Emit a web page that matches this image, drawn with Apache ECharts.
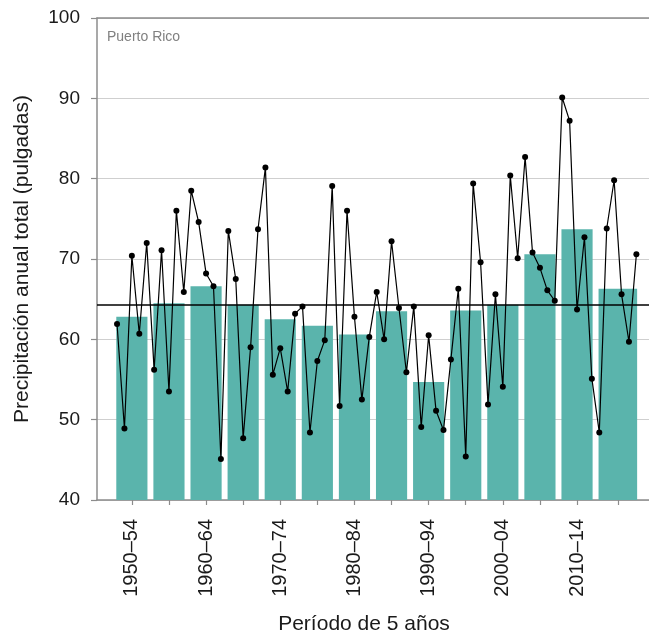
<!DOCTYPE html>
<html>
<head>
<meta charset="utf-8">
<script src="https://cdn.jsdelivr.net/npm/echarts@6/dist/echarts.min.js"></script>
<style>
  html, body { margin: 0; padding: 0; background: #fff; }
  #chart { width: 649px; height: 630px; }
</style>
</head>
<body>
<div id="chart"></div>
<script>
// Annual precipitation totals for Puerto Rico (inches)
const years = [
  1950, 1951, 1952, 1953, 1954, 1955, 1956, 1957, 1958, 1959,
  1960, 1961, 1962, 1963, 1964, 1965, 1966, 1967, 1968, 1969,
  1970, 1971, 1972, 1973, 1974, 1975, 1976, 1977, 1978, 1979,
  1980, 1981, 1982, 1983, 1984, 1985, 1986, 1987, 1988, 1989,
  1990, 1991, 1992, 1993, 1994, 1995, 1996, 1997, 1998, 1999,
  2000, 2001, 2002, 2003, 2004, 2005, 2006, 2007, 2008, 2009,
  2010, 2011, 2012, 2013, 2014, 2015, 2016, 2017, 2018, 2019,
  2020
];
const annualTotals = [
  61.9, 48.9, 70.4, 60.7, 72.0, 56.2, 71.1, 53.5, 76.0, 65.9,
  78.5, 74.6, 68.2, 66.6, 45.1, 73.5, 67.5, 47.7, 59.0, 73.7,
  81.4, 55.6, 58.9, 53.5, 63.2, 64.1, 48.4, 57.3, 59.9, 79.1,
  51.7, 76.0, 62.8, 52.5, 60.3, 65.9, 60.0, 72.2, 63.9, 55.9,
  64.1, 49.1, 60.5, 51.1, 48.7, 57.5, 66.3, 45.4, 79.4, 69.6,
  51.9, 65.6, 54.1, 80.4, 70.1, 82.7, 70.8, 68.9, 66.1, 64.8,
  90.1, 87.2, 63.7, 72.7, 55.1, 48.4, 73.8, 79.8, 65.6, 59.7,
  70.6
];

// 5-year periods (the last one runs through 2020)
const periodStart = [1950, 1955, 1960, 1965, 1970, 1975, 1980, 1985, 1990, 1995, 2000, 2005, 2010, 2015];
const periodEnd   = [1954, 1959, 1964, 1969, 1974, 1979, 1984, 1989, 1994, 1999, 2004, 2009, 2014, 2020];
const periodMeans = [62.8, 64.5, 66.6, 64.3, 62.5, 61.7, 60.6, 63.5, 54.7, 63.6, 64.3, 70.6, 73.7, 66.3];
const periodLabels = ['1950–54', '1955–59', '1960–64', '1965–69', '1970–74', '1975–79', '1980–84',
                      '1985–89', '1990–94', '1995–99', '2000–04', '2005–09', '2010–14', '2015–20'];
const labelledPeriods = ['1950–54', '1960–64', '1970–74', '1980–84', '1990–94', '2000–04', '2010–14'];

// Long-term average
const longTermAverage = 64.3;

const yTicks = { min: 40, max: 100, step: 10 };
const xRange = { min: 1947.3, max: 2021.7 };

const font = '"Liberation Sans", Arial, Helvetica, sans-serif';
const axisGray = '#8c8c8c';

const centers = periodStart.map((s, i) => (s + periodEnd[i]) / 2);
const centerLabel = {};
centers.forEach((c, i) => { centerLabel[c] = periodLabels[i]; });
const labelValues = centers.filter((c) => labelledPeriods.indexOf(centerLabel[c]) >= 0);

const barData = periodStart.map((s, i) => [s, periodEnd[i], periodMeans[i]]);
const lineData = years.map((y, i) => [y, annualTotals[i]]);

const chart = echarts.init(document.getElementById('chart'), null, { renderer: 'canvas' });

chart.setOption({
  animation: false,
  backgroundColor: '#fff',
  title: {
    text: 'Puerto Rico',
    left: 102,
    top: 25,
    textStyle: { fontFamily: font, fontSize: 14, fontWeight: 'normal', color: '#808080' }
  },
  grid: { left: 97, right: 0, top: 18, bottom: 130, outerBoundsMode: 'none', containLabel: false },
  xAxis: [
    {
      type: 'value',
      min: xRange.min,
      max: xRange.max,
      name: 'Período de 5 años',
      nameLocation: 'middle',
      nameGap: 114,
      nameTextStyle: { fontFamily: font, fontSize: 21, color: '#1a1a1a', padding: [0, 18, 0, 0] },
      axisLine: { show: true, lineStyle: { color: axisGray, width: 1.5 } },
      axisTick: { show: true, length: 5, lineStyle: { color: axisGray, width: 1.2 }, customValues: centers },
      axisLabel: {
        rotate: 90,
        margin: 19,
        fontFamily: font,
        fontSize: 20,
        color: '#1a1a1a',
        customValues: labelValues,
        formatter: (v) => centerLabel[v] || ''
      },
      splitLine: { show: false }
    },
    {
      type: 'value',
      position: 'top',
      min: xRange.min,
      max: xRange.max,
      axisLine: { show: true, lineStyle: { color: axisGray, width: 1.5 } },
      axisTick: { show: false },
      axisLabel: { show: false },
      splitLine: { show: false }
    }
  ],
  yAxis: {
    type: 'value',
    min: yTicks.min,
    max: yTicks.max,
    interval: yTicks.step,
    name: 'Precipitación anual total (pulgadas)',
    nameLocation: 'middle',
    nameGap: 64,
    nameTextStyle: { fontFamily: font, fontSize: 21, color: '#1a1a1a' },
    axisLine: { show: true, lineStyle: { color: axisGray, width: 1.5 } },
    axisTick: { show: true, length: 6, lineStyle: { color: axisGray, width: 1.2 } },
    axisLabel: { margin: 17, fontFamily: font, fontSize: 19, color: '#1a1a1a' },
    splitLine: { show: true, lineStyle: { color: '#cfcfcf', width: 1.2 } }
  },
  series: [
    {
      type: 'custom',
      name: 'Promedio de 5 años',
      xAxisIndex: 0,
      data: barData,
      renderItem: (params, api) => {
        const pad = 0.1;
        const p0 = api.coord([api.value(0) - pad, api.value(2)]);
        const p1 = api.coord([api.value(1) + pad, yTicks.min]);
        return {
          type: 'rect',
          shape: { x: p0[0], y: p0[1], width: p1[0] - p0[0], height: p1[1] - p0[1] },
          style: { fill: '#5ab4ac' }
        };
      },
      z: 2
    },
    {
      type: 'line',
      name: 'Total anual',
      xAxisIndex: 0,
      data: lineData,
      symbol: 'circle',
      symbolSize: 6,
      itemStyle: { color: '#000' },
      lineStyle: { color: '#000', width: 1.2 },
      z: 4,
      markLine: {
        silent: true,
        symbol: 'none',
        label: { show: false },
        lineStyle: { color: '#000', width: 1.5, type: 'solid' },
        data: [{ yAxis: longTermAverage }],
        z: 3
      }
    }
  ]
});
</script>
</body>
</html>
